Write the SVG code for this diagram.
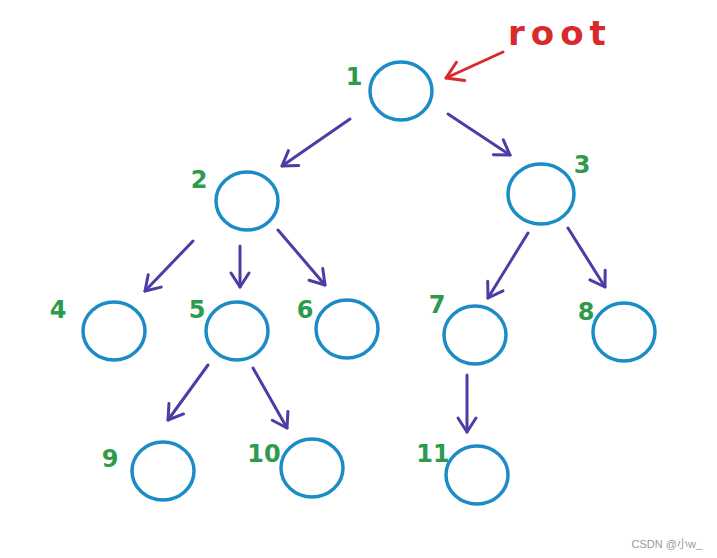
<svg xmlns="http://www.w3.org/2000/svg" width="717" height="558" viewBox="0 0 717 558">
<style>
.node ellipse{fill:none;stroke:#1b8cc6;stroke-width:3.5}
.lbl{font-family:"DejaVu Sans","Liberation Sans",sans-serif;font-weight:bold;font-size:24px;fill:#2e9a4c;text-anchor:middle}
.edge{fill:none;stroke:#4a3ea6;stroke-width:3;stroke-linecap:round;marker-end:url(#arr)}
.root-edge{fill:none;stroke:#d8292c;stroke-width:3;stroke-linecap:round;marker-end:url(#arrRed)}
</style>
<defs>
<marker id="arr" markerUnits="userSpaceOnUse" viewBox="-18 -12 22 24" refX="0" refY="0" markerWidth="22" markerHeight="24" orient="auto">
<path d="M-14,-9 L0,0 L-14,9" fill="none" stroke="#4a3ea6" stroke-width="3" stroke-linecap="round" stroke-linejoin="round"/>
</marker>
<marker id="arrRed" markerUnits="userSpaceOnUse" viewBox="-20 -14 24 28" refX="0" refY="0" markerWidth="24" markerHeight="28" orient="auto">
<path d="M-16,-10 L0,0 L-16,10" fill="none" stroke="#d8292c" stroke-width="3" stroke-linecap="round" stroke-linejoin="round"/>
</marker>
</defs>
<rect width="717" height="558" fill="#ffffff"/>
<g id="connectors">
<path class="root-edge" d="M503,52 L446,78"/>
<path class="edge" d="M350,119 L282,166"/>
<path class="edge" d="M448,114 L510,155"/>
<path class="edge" d="M193,241 L145,291"/>
<path class="edge" d="M240,246 L240,287"/>
<path class="edge" d="M278,230 L325,285"/>
<path class="edge" d="M528,233 L488,298"/>
<path class="edge" d="M568,228 L605,287"/>
<path class="edge" d="M208,365 L168,420"/>
<path class="edge" d="M253,368 L287,428"/>
<path class="edge" d="M467,375 L467,432"/>
</g>
<g id="root-label"><text x="508" y="45" font-family="DejaVu Sans,Liberation Sans,sans-serif" font-weight="bold" font-size="34" letter-spacing="6" fill="#d8292c">root</text></g>
<g id="node1" class="node"><ellipse cx="401" cy="91" rx="31" ry="29"/><text class="lbl" x="354" y="85">1</text></g>
<g id="node2" class="node"><ellipse cx="247" cy="201" rx="31" ry="29"/><text class="lbl" x="199" y="188">2</text></g>
<g id="node3" class="node"><ellipse cx="541" cy="194" rx="33" ry="30"/><text class="lbl" x="582" y="173">3</text></g>
<g id="node4" class="node"><ellipse cx="114" cy="331" rx="31" ry="29"/><text class="lbl" x="58" y="318">4</text></g>
<g id="node5" class="node"><ellipse cx="237" cy="331" rx="31" ry="29"/><text class="lbl" x="197" y="318">5</text></g>
<g id="node6" class="node"><ellipse cx="347" cy="329" rx="31" ry="29"/><text class="lbl" x="305" y="318">6</text></g>
<g id="node7" class="node"><ellipse cx="475" cy="335" rx="31" ry="29"/><text class="lbl" x="437" y="313">7</text></g>
<g id="node8" class="node"><ellipse cx="624" cy="332" rx="31" ry="29"/><text class="lbl" x="586" y="320">8</text></g>
<g id="node9" class="node"><ellipse cx="163" cy="471" rx="31" ry="29"/><text class="lbl" x="110" y="467">9</text></g>
<g id="node10" class="node"><ellipse cx="312" cy="468" rx="31" ry="29"/><text class="lbl" x="264" y="462">10</text></g>
<g id="node11" class="node"><ellipse cx="477" cy="475" rx="31" ry="29"/><text class="lbl" x="433" y="462">11</text></g>
<text x="702" y="548" text-anchor="end" font-family="Liberation Sans,Noto Sans CJK SC,sans-serif" font-size="11" fill="#9a9a9a">CSDN @小w_</text>
</svg>
